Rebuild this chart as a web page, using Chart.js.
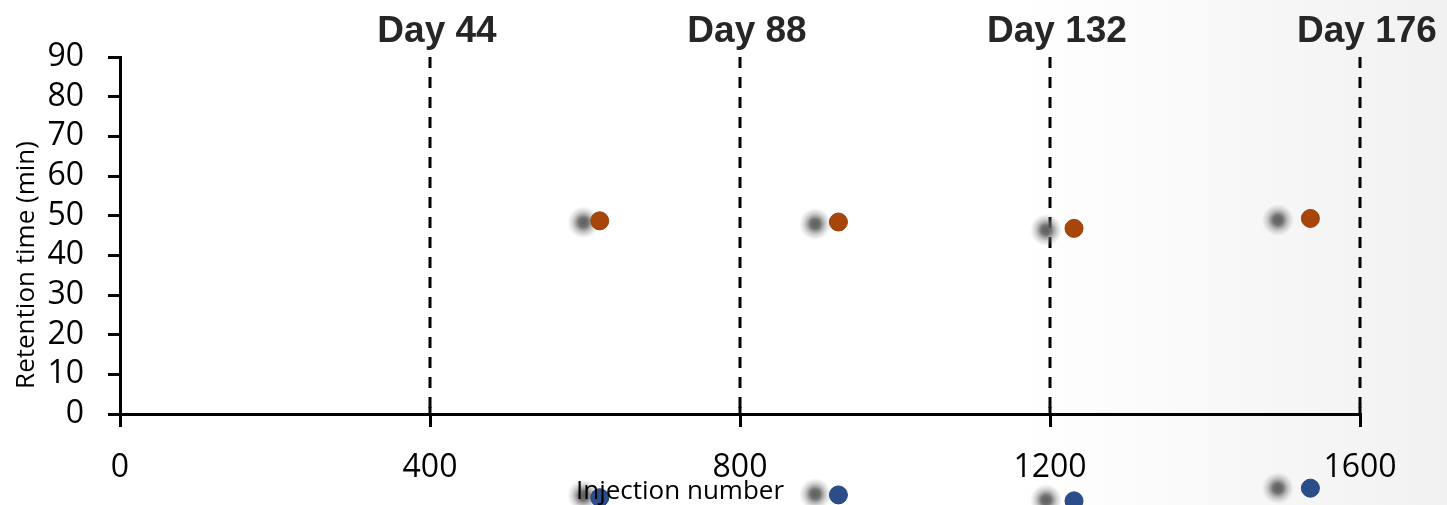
<!DOCTYPE html>
<html>
<head>
<meta charset="utf-8">
<script src="https://cdn.jsdelivr.net/npm/chart.js@4.4.1/dist/chart.umd.min.js"></script>
<style>
  html, body { margin: 0; padding: 0; background: #ffffff; }
  #wrap { width: 1447px; height: 505px; position: relative; }
</style>
</head>
<body>
<div id="wrap"><canvas id="c" width="1447" height="505"></canvas></div>
<script>
// ---- data ----
const xTicks = [0, 400, 800, 1200, 1600];
const yTicks = [0, 10, 20, 30, 40, 50, 60, 70, 80, 90];
const dayLines = [400, 800, 1200, 1600];
const dayLabels = ['Day 44', 'Day 88', 'Day 132', 'Day 176'];

const orangeX = [619, 927, 1231, 1536];
const orangeY = [48.7, 48.4, 46.8, 49.3];
const grayTopX = [598, 897, 1195, 1494];
const grayTopY = [48.3, 47.9, 46.4, 48.9];
const blueX = [619, 927, 1231, 1536];
const blueY = [-21.1, -20.4, -21.9, -18.7];
const grayBotX = [598, 897, 1195, 1494];
const grayBotY = [-20.6, -20.2, -21.7, -18.7];

const xTitle = 'Injection number';
const yTitle = 'Retention time (min)';

// ---- helpers ----
function pts(xs, ys) { return xs.map((x, i) => ({ x: x, y: ys[i] })); }

function blurDot() {
  const c = document.createElement('canvas');
  c.width = 34; c.height = 34;
  const g = c.getContext('2d');
  const rg = g.createRadialGradient(17, 17, 0, 17, 17, 16);
  rg.addColorStop(0, 'rgba(85,85,85,0.95)');
  rg.addColorStop(0.3, 'rgba(92,92,92,0.88)');
  rg.addColorStop(0.65, 'rgba(125,125,125,0.38)');
  rg.addColorStop(1, 'rgba(150,150,150,0)');
  g.fillStyle = rg;
  g.fillRect(0, 0, 34, 34);
  return c;
}
const blurImg = blurDot();

const datasets = [];
dayLines.forEach((d) => {
  datasets.push({
    type: 'scatter',
    data: [{ x: d, y: 90 }, { x: d, y: 0 }],
    showLine: true,
    borderColor: '#000000',
    borderWidth: 3,
    borderDash: [11, 9],
    pointRadius: 0,
    clip: false,
    order: 5
  });
});
datasets.push({ data: pts(grayTopX, grayTopY), pointStyle: blurImg, pointRadius: 17, order: 4, clip: false });
datasets.push({ data: pts(grayBotX, grayBotY), pointStyle: blurImg, pointRadius: 17, order: 4, clip: false, offChart: true });
datasets.push({ data: pts(orangeX, orangeY), backgroundColor: '#A7460A', borderColor: '#9A3F08', borderWidth: 1, pointRadius: 9, order: 1, clip: false });
datasets.push({ data: pts(blueX, blueY), backgroundColor: '#2B4E8B', borderColor: '#264680', borderWidth: 1, pointRadius: 9, order: 1, clip: false, offChart: true });

const bgPlugin = {
  id: 'bg',
  beforeDraw(chart) {
    const ctx = chart.ctx;
    const g = ctx.createLinearGradient(1020, 0, 1447, 0);
    g.addColorStop(0, '#ffffff');
    g.addColorStop(1, '#f1f1f1');
    ctx.save();
    ctx.fillStyle = g;
    ctx.fillRect(0, 0, chart.width, chart.height);
    ctx.restore();
  }
};

// let points that sit below the axis (outside the plot area) be drawn
const offChartPlugin = {
  id: 'offChart',
  beforeDatasetDraw(chart, args) {
    if (args.meta._dataset && args.meta._dataset.offChart) {
      chart._savedArea = chart.chartArea;
      chart.chartArea = { left: 0, top: 0, right: chart.width, bottom: chart.height, width: chart.width, height: chart.height };
    }
  },
  afterDatasetDraw(chart, args) {
    if (chart._savedArea) {
      chart.chartArea = chart._savedArea;
      chart._savedArea = null;
    }
  }
};

const extrasPlugin = {
  id: 'extras',
  afterDraw(chart) {
    const ctx = chart.ctx;
    const xs = chart.scales.x, ys = chart.scales.y;
    ctx.save();
    // upward part of crossing x ticks
    ctx.strokeStyle = '#000';
    ctx.lineWidth = 3;
    xTicks.forEach((t) => {
      if (t === 0) return;
      const px = xs.getPixelForValue(t);
      ctx.beginPath();
      ctx.moveTo(px, ys.bottom - 7);
      ctx.lineTo(px, ys.bottom);
      ctx.stroke();
    });
    // day labels
    ctx.fillStyle = '#262626';
    ctx.font = 'bold 37px "Liberation Sans", Arial, sans-serif';
    ctx.textAlign = 'center';
    ctx.textBaseline = 'alphabetic';
    dayLines.forEach((d, i) => {
      ctx.fillText(dayLabels[i], xs.getPixelForValue(d) + 7, 42);
    });
    // axis titles
    ctx.fillStyle = '#000';
    ctx.font = '26px "Open Sans", sans-serif';
    ctx.textBaseline = 'middle';
    ctx.fillText(xTitle, 680, 492);
    ctx.translate(27, 265);
    ctx.rotate(-Math.PI / 2);
    ctx.fillText(yTitle, 0, 0);
    ctx.restore();
  }
};

new Chart(document.getElementById('c'), {
  type: 'scatter',
  data: { datasets: datasets },
  plugins: [bgPlugin, offChartPlugin, extrasPlugin],
  options: {
    responsive: false,
    animation: false,
    events: [],
    layout: { padding: { left: 0, right: 87, top: 57, bottom: 0 } },
    plugins: { legend: { display: false }, tooltip: { enabled: false } },
    scales: {
      x: {
        type: 'linear',
        min: 0, max: 1600,
        afterBuildTicks(s) { s.ticks = xTicks.map(v => ({ value: v })); },
        afterFit(s) { s.height = 91; },
        ticks: { font: { family: '"Open Sans", sans-serif', size: 32 }, color: '#000', padding: 22, maxRotation: 0,
                 autoSkip: false, callback: (v) => String(v) },
        grid: { drawOnChartArea: false, drawTicks: true, tickLength: 13, color: '#000', lineWidth: 3 },
        border: { display: true, color: '#000', width: 3 }
      },
      y: {
        type: 'linear',
        min: 0, max: 90,
        afterBuildTicks(s) { s.ticks = yTicks.map(v => ({ value: v })); },
        afterFit(s) { s.width = 120; },
        ticks: { font: { family: '"Open Sans", sans-serif', size: 32 }, color: '#000', padding: 24,
                 autoSkip: false, callback: (v) => String(v) },
        grid: { drawOnChartArea: false, drawTicks: true, tickLength: 12, color: '#000', lineWidth: 3 },
        border: { display: true, color: '#000', width: 3 }
      }
    }
  }
});
</script>
</body>
</html>
